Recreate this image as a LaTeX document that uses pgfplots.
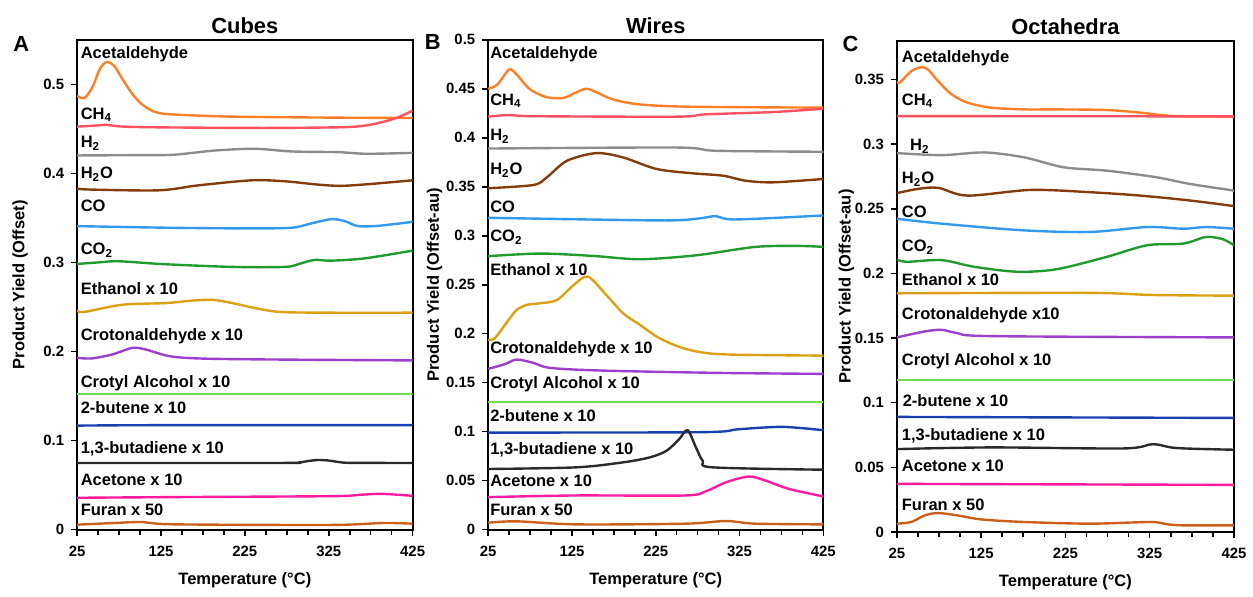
\documentclass[border=0pt]{standalone}
\usepackage{fontspec}
\setmainfont{Liberation Sans}
\usepackage{pgfplots}
\pgfplotsset{compat=1.18}

\definecolor{cAce}{HTML}{FF7F27}
\definecolor{cCH}{HTML}{FF5060}
\definecolor{cHH}{HTML}{8C8C8C}
\definecolor{cHO}{HTML}{843C0C}
\definecolor{cCO}{HTML}{3399EE}
\definecolor{cCOO}{HTML}{1F9B2F}
\definecolor{cEth}{HTML}{DDA012}
\definecolor{cCrot}{HTML}{9B3FCF}
\definecolor{cCrl}{HTML}{70DD50}
\definecolor{cBut}{HTML}{1A3FB0}
\definecolor{cBd}{HTML}{2A2A2A}
\definecolor{cAcet}{HTML}{FF1AA0}
\definecolor{cFur}{HTML}{CC5F1A}

\tikzset{lab/.style={anchor=base west, inner sep=0pt, font=\bfseries\fontsize{8.3}{10}\selectfont}}
\pgfplotsset{
  panel/.style={
    scale only axis, anchor=south west,
    xmin=25, xmax=425, ymin=0,
    xtick={25,125,225,325,425}, minor x tick num=3,
    tick align=outside, tick pos=left,
    axis line style={line width=1pt, black},
    major tick style={line width=0.8pt, black}, minor tick style={line width=0.8pt, black},
    major tick length=3pt, minor tick length=2.5pt,
    scaled y ticks=false,
    yticklabel style={/pgf/number format/fixed, /pgf/number format/precision=2},
    xticklabel style={yshift=-1.5pt},
    /pgf/number format/assume math mode=true,
    tick label style={font=\bfseries\fontsize{7.5}{9}\selectfont},
    label style={font=\bfseries\fontsize{8.3}{10}\selectfont},
    title style={font=\bfseries\fontsize{11}{13}\selectfont, at={(0.5,1)}, anchor=base, yshift=-3pt},
    xlabel={Temperature (°C)},
    xlabel style={at={(axis description cs:0.5,0)}, anchor=base, yshift=-27.5pt},
    no markers, every axis plot/.append style={line width=1.2pt, smooth, tension=0.5},
  },
}

\begin{document}
\begin{tikzpicture}
\path (0,0) rectangle (626.5pt,295.5pt);

% ---------- A: Cubes ----------
\begin{axis}[panel, at={(38.75pt,29.15pt)}, width=168.75pt, height=246.35pt,
  ymax=0.55, ytick={0,0.1,0.2,0.3,0.4,0.5},
  title={Cubes}, ylabel={Product Yield (Offset)},
  ylabel style={at={(axis description cs:-0.17,0.5)}, anchor=center}]
\addplot[cAce] coordinates {(25,0.487)(34,0.4846)(44,0.498)(52,0.517)(60,0.525)(69,0.521)(79,0.506)(91,0.489)(103,0.477)(119,0.4686)(142,0.466)(210,0.4637)(328,0.4626)(425,0.4622)};
\addplot[cCH] coordinates {(25,0.4525)(45,0.4535)(60,0.4544)(80,0.4525)(130,0.4516)(250,0.451)(340,0.4518)(368,0.4536)(388,0.4574)(407,0.4627)(425,0.4704)};
\addplot[cHH] coordinates {(25,0.4201)(100,0.4205)(140,0.4209)(190,0.4257)(237,0.4276)(281,0.4246)(337,0.4238)(370,0.422)(425,0.423)};
\addplot[cHO] coordinates {(25,0.3829)(42,0.3818)(123,0.381)(170,0.3866)(233,0.3922)(273,0.3911)(312,0.3874)(340,0.386)(375,0.3881)(425,0.3922)};
\addplot[cCO] coordinates {(25,0.3408)(130,0.339)(229,0.3382)(281,0.339)(304,0.3438)(328,0.3486)(344,0.3464)(360,0.3408)(385,0.3412)(425,0.3456)};
\addplot[cCOO] coordinates {(25,0.2983)(50,0.3)(75,0.3013)(130,0.298)(210,0.295)(273,0.295)(290,0.2985)(308,0.3028)(328,0.302)(368,0.3046)(425,0.3133)};
\addplot[cEth] coordinates {(25,0.2458)(34,0.2445)(79,0.2525)(131,0.2544)(160,0.257)(186,0.2581)(210,0.2544)(241,0.248)(269,0.2443)(328,0.2436)(425,0.2436)};
\addplot[cCrot] coordinates {(25,0.193)(42,0.1922)(67,0.1967)(91,0.2041)(107,0.2022)(135,0.1948)(170,0.1922)(249,0.1911)(425,0.19)};
\addplot[cCrl] coordinates {(25,0.152)(425,0.152)};
\addplot[cBut] coordinates {(25,0.1168)(120,0.1173)(425,0.1173)};
\addplot[cBd] coordinates {(25,0.0749)(270,0.0749)(290,0.0755)(300,0.0770)(312,0.0782)(325,0.0776)(338,0.0758)(352,0.0750)(425,0.0749)};
\addplot[cAcet] coordinates {(25,0.0358)(130,0.0365)(328,0.0376)(360,0.039)(388,0.0402)(425,0.038)};
\addplot[cFur] coordinates {(25,0.0056)(70,0.0075)(103,0.0086)(140,0.006)(328,0.0053)(390,0.0075)(425,0.0067)};
\node[lab] at (axis cs:29,0.529) {Acetaldehyde};
\node[lab] at (axis cs:29,0.461) {CH\textsubscript{4}};
\node[lab] at (axis cs:29,0.4287) {H\textsubscript{2}};
\node[lab] at (axis cs:29,0.394) {H\textsubscript{2}O};
\node[lab] at (axis cs:29,0.357) {CO};
\node[lab] at (axis cs:29,0.3084) {CO\textsubscript{2}};
\node[lab] at (axis cs:29,0.2637) {Ethanol x 10};
\node[lab] at (axis cs:29,0.2123) {Crotonaldehyde x 10};
\node[lab] at (axis cs:29,0.1594) {Crotyl Alcohol x 10};
\node[lab] at (axis cs:29,0.1304) {2-butene x 10};
\node[lab] at (axis cs:29,0.086) {1,3-butadiene x 10};
\node[lab] at (axis cs:29,0.0496) {Acetone x 10};
\node[lab] at (axis cs:29,0.0161) {Furan x 50};
\end{axis}

% ---------- B: Wires ----------
\begin{axis}[panel, at={(245.5pt,29.15pt)}, width=168.5pt, height=246.35pt,
  ymax=0.5, ytick={0,0.05,...,0.51},
  title={Wires}, ylabel={Product Yield (Offset-au)},
  ylabel style={at={(axis description cs:-0.16,0.5)}, anchor=center}]
\addplot[cAce] coordinates {(25,0.45)(36,0.4543)(50,0.4696)(59,0.4645)(75,0.4493)(95,0.4414)(115,0.4407)(129,0.4459)(142,0.45)(154,0.4465)(174,0.4391)(206,0.434)(265,0.4317)(425,0.4307)};
\addplot[cCH] coordinates {(25,0.4215)(50,0.4232)(80,0.422)(250,0.4215)(285,0.4239)(364,0.4262)(425,0.4296)};
\addplot[cHH] coordinates {(25,0.389)(250,0.39)(297,0.3867)(425,0.3857)};
\addplot[cHO] coordinates {(25,0.3485)(79,0.3518)(95,0.3596)(119,0.3765)(154,0.3843)(186,0.3799)(226,0.3681)(269,0.3637)(305,0.3613)(332,0.3562)(365,0.3545)(425,0.3579)};
\addplot[cCO] coordinates {(25,0.3183)(230,0.3156)(275,0.3175)(297,0.32)(320,0.3166)(425,0.3207)};
\addplot[cCOO] coordinates {(25,0.2791)(87,0.2818)(150,0.2794)(206,0.276)(273,0.28)(344,0.2886)(395,0.2896)(425,0.2886)};
\addplot[cEth] coordinates {(25,0.1938)(33,0.1955)(48,0.2125)(59,0.2243)(71,0.2294)(87,0.2311)(107,0.2344)(127,0.2496)(144,0.2582)(166,0.2395)(186,0.2209)(206,0.2091)(229,0.1956)(257,0.1854)(285,0.1803)(320,0.1786)(425,0.1776)};
\addplot[cCrot] coordinates {(25,0.1641)(45,0.169)(59,0.1736)(79,0.1702)(99,0.1651)(160,0.1624)(300,0.16)(425,0.159)};
\addplot[cCrl] coordinates {(25,0.1306)(425,0.1306)};
\addplot[cBut] coordinates {(25,0.0991)(280,0.0995)(324,0.1025)(376,0.1049)(425,0.1015)};
\addplot[cBd] coordinates {(25,0.0619)(130,0.0636)(186,0.0687)(218,0.0738)(238,0.0806)(253,0.0924)(263,0.1015)(273,0.0839)(281,0.0704)(293,0.0636)(425,0.0612)};
\addplot[cAcet] coordinates {(25,0.0332)(130,0.0349)(260,0.0349)(285,0.0393)(309,0.0484)(336,0.0542)(356,0.0501)(384,0.0416)(425,0.0339)};
\addplot[cFur] coordinates {(25,0.0071)(59,0.0085)(130,0.0054)(260,0.0061)(309,0.0088)(344,0.0061)(425,0.0054)};
\node[lab] at (axis cs:27,0.4804) {Acetaldehyde};
\node[lab] at (axis cs:27,0.433) {CH\textsubscript{4}};
\node[lab] at (axis cs:27,0.3968) {H\textsubscript{2}};
\node[lab] at (axis cs:27,0.362) {H\textsubscript{2}O};
\node[lab] at (axis cs:27,0.3241) {CO};
\node[lab] at (axis cs:27,0.2937) {CO\textsubscript{2}};
\node[lab] at (axis cs:27,0.2598) {Ethanol x 10};
\node[lab] at (axis cs:27,0.1793) {Crotonaldehyde x 10};
\node[lab] at (axis cs:27,0.1441) {Crotyl Alcohol x 10};
\node[lab] at (axis cs:27,0.1103) {2-butene x 10};
\node[lab] at (axis cs:27,0.0771) {1,3-butadiene x 10};
\node[lab] at (axis cs:27,0.044) {Acetone x 10};
\node[lab] at (axis cs:27,0.0146) {Furan x 50};
\end{axis}

% ---------- C: Octahedra ----------
\begin{axis}[panel, at={(451pt,28pt)}, width=169.5pt, height=247pt,
  ymax=0.38, ytick={0,0.05,...,0.36},
  title={Octahedra}, ylabel={Product Yield (Offset-au)},
  ylabel style={at={(axis description cs:-0.15,0.5)}, anchor=center}]
\addplot[cAce] coordinates {(25,0.3487)(28,0.3474)(42,0.3564)(54,0.3595)(62,0.3577)(74,0.3487)(90,0.3385)(109,0.3321)(137,0.3282)(176,0.3269)(215,0.3269)(274,0.3264)(314,0.3244)(353,0.3218)(425,0.3213)};
\addplot[cCH] coordinates {(25,0.3217)(425,0.3215)};
\addplot[cHH] coordinates {(25,0.2931)(78,0.2915)(129,0.2936)(176,0.2898)(223,0.2821)(274,0.2795)(333,0.2744)(373,0.2692)(425,0.2641)};
\addplot[cHO] coordinates {(25,0.2621)(50,0.2654)(74,0.2662)(109,0.2602)(184,0.2646)(255,0.2628)(314,0.2602)(373,0.2564)(425,0.2521)};
\addplot[cCO] coordinates {(25,0.2423)(78,0.2385)(176,0.2333)(255,0.2321)(322,0.2359)(365,0.2346)(392,0.2359)(425,0.2346)};
\addplot[cCOO] coordinates {(25,0.2108)(37,0.209)(78,0.2103)(117,0.2051)(168,0.2013)(215,0.2033)(274,0.2128)(322,0.2218)(365,0.2231)(392,0.2282)(412,0.2264)(425,0.2218)};
\addplot[cEth] coordinates {(25,0.1846)(250,0.185)(330,0.1833)(425,0.1828)};
\addplot[cCrot] coordinates {(25,0.1505)(58,0.1551)(78,0.1564)(97,0.1538)(137,0.1515)(425,0.1505)};
\addplot[cCrl] coordinates {(25,0.1174)(425,0.1174)};
\addplot[cBut] coordinates {(25,0.089)(425,0.0882)};
\addplot[cBd] coordinates {(25,0.0641)(137,0.0654)(294,0.0646)(329,0.0679)(357,0.0649)(425,0.0636)};
\addplot[cAcet] coordinates {(25,0.0372)(425,0.0364)};
\addplot[cFur] coordinates {(25,0.0064)(42,0.0077)(58,0.0128)(74,0.0146)(97,0.0128)(125,0.0097)(176,0.0077)(255,0.0064)(326,0.0077)(345,0.006)(365,0.0051)(425,0.0051)};
\node[lab] at (axis cs:30.5,0.3633) {Acetaldehyde};
\node[lab] at (axis cs:30.5,0.33) {CH\textsubscript{4}};
\node[lab] at (axis cs:40.3,0.2949) {H\textsubscript{2}};
\node[lab] at (axis cs:30.5,0.2692) {H\textsubscript{2}O};
\node[lab] at (axis cs:30.5,0.2436) {CO};
\node[lab] at (axis cs:30.5,0.2167) {CO\textsubscript{2}};
\node[lab] at (axis cs:30.5,0.1905) {Ethanol x 10};
\node[lab] at (axis cs:30.5,0.1641) {Crotonaldehyde x10};
\node[lab] at (axis cs:30.5,0.1287) {Crotyl Alcohol x 10};
\node[lab] at (axis cs:31.5,0.0969) {2-butene x 10};
\node[lab] at (axis cs:30.5,0.0705) {1,3-butadiene x 10};
\node[lab] at (axis cs:30.5,0.0467) {Acetone x 10};
\node[lab] at (axis cs:30.5,0.0167) {Furan x 50};
\end{axis}

% panel letters
\node[anchor=base west, inner sep=0pt, font=\bfseries\fontsize{11}{13}\selectfont] at (6.5pt,269.5pt) {A};
\node[anchor=base west, inner sep=0pt, font=\bfseries\fontsize{11}{13}\selectfont] at (213.5pt,270.5pt) {B};
\node[anchor=base west, inner sep=0pt, font=\bfseries\fontsize{11}{13}\selectfont] at (423.5pt,269.5pt) {C};
\end{tikzpicture}
\end{document}
